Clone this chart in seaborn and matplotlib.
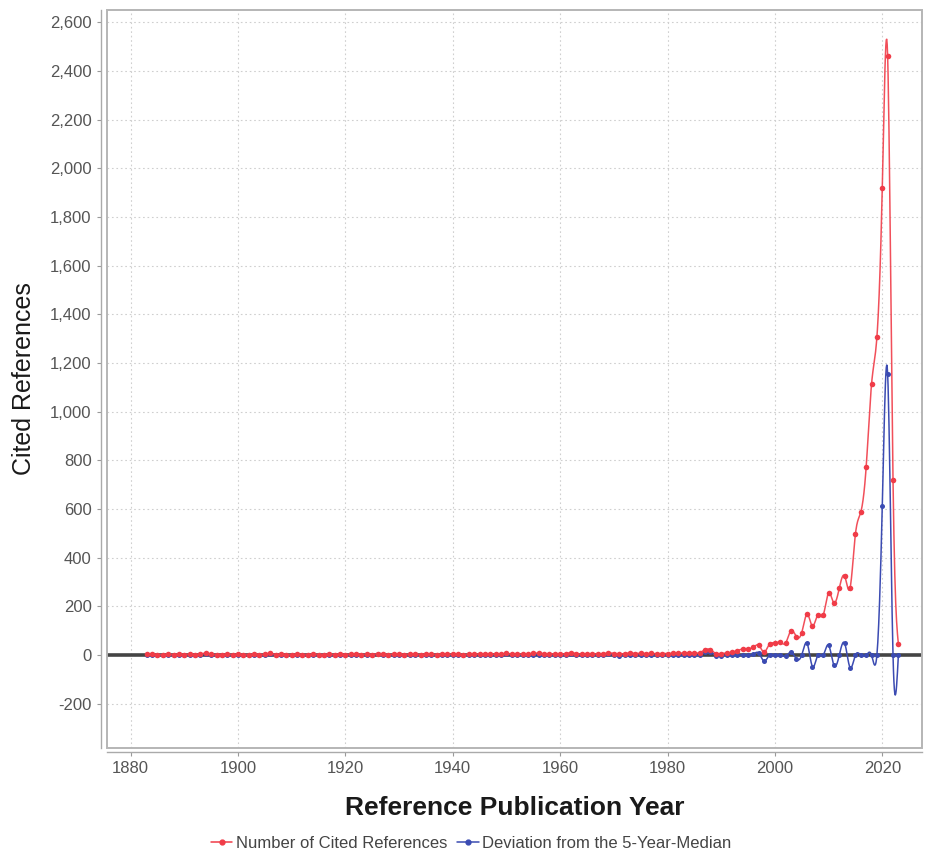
import numpy as np
import pandas as pd
import matplotlib
matplotlib.use("Agg")
import matplotlib.pyplot as plt
from matplotlib.lines import Line2D
from matplotlib.patches import Rectangle
from matplotlib.ticker import FuncFormatter, MultipleLocator
import seaborn as sns

# Data (one value per year, 1883-2023)
first_year = 1883
cited_refs = [
    4, 3, 2, 2, 3, 2, 3,
    2, 3, 2, 3, 9, 3, 2, 2, 3, 2,
    3, 2, 2, 3, 2, 3, 8, 2, 3, 2,
    2, 3, 2, 2, 3, 2, 2, 3, 2, 3,
    2, 3, 3, 2, 3, 2, 6, 3, 2, 3,
    3, 2, 3, 3, 2, 4, 3, 2, 3, 3,
    3, 3, 2, 3, 4, 3, 3, 4, 3, 4,
    7, 4, 3, 4, 4, 8, 7, 5, 4, 5,
    4, 5, 10, 5, 4, 5, 4, 6, 5, 9,
    6, 4, 6, 8, 6, 8, 6, 7, 5, 6,
    6, 7, 8, 8, 9, 8, 10, 22, 22, 6,
    6, 8, 12, 18, 25, 26, 32, 40, 12, 45,
    49, 53, 49, 100, 76, 92, 168, 119, 164, 164,
    255, 214, 275, 324, 275, 497, 587, 772, 1113, 1306,
    1920, 2460, 720, 45,
]
median_dev = [
    1, 0, -1, -1, 0, -1, 0,
    -1, 0, -1, 0, 6, 0, -1, -1, 0, -1,
    0, -1, -1, 0, -1, 0, 5, -1, 0, -1,
    -1, 0, -1, -1, 0, -1, -1, 0, -1, 0,
    -1, 0, 0, -1, 0, -1, 3, 0, -1, 0,
    0, -1, 0, 0, -1, 1, 0, -1, 0, 0,
    0, 0, -1, 0, 1, 0, 0, 0, -1, 0,
    3, 0, -1, 0, -1, 2, 2, 0, -1, 0,
    -1, 0, 5, 0, -1, 0, -1, 1, 0, 3,
    0, -2, 0, 2, 0, 1, -1, 0, -1, 0,
    0, 0, 0, 0, 1, 0, 0, 12, 12, -2,
    -2, 0, 0, 0, 0, 0, 4, 8, -25, 0,
    0, 2, -5, 12, -16, 0, 48, -48, 0, 0,
    41, -43, 0, 48, -52, 0, 0, 0, 0, 0,
    612, 1155, 0, 0,
]
years = list(range(first_year, first_year + len(cited_refs)))

series_names = ["Number of Cited References", "Deviation from the 5-Year-Median"]
red = "#f03c48"
blue = "#3b4bb2"

df = pd.DataFrame({"year": years, "refs": cited_refs, "dev": median_dev})


def spline_curve(x, y, steps=12):
    # natural cubic spline, the way the original chart smooths its lines
    x = np.asarray(x, float)
    y = np.asarray(y, float)
    n = len(x)
    h = np.diff(x)
    A = np.zeros((n, n))
    r = np.zeros(n)
    A[0, 0] = A[-1, -1] = 1
    for i in range(1, n - 1):
        A[i, i - 1] = h[i - 1] / 6
        A[i, i] = (h[i - 1] + h[i]) / 3
        A[i, i + 1] = h[i] / 6
        r[i] = (y[i + 1] - y[i]) / h[i] - (y[i] - y[i - 1]) / h[i - 1]
    m = np.linalg.solve(A, r)
    xs, ys = [], []
    for i in range(n - 1):
        xq = np.linspace(x[i], x[i + 1], steps, endpoint=False)
        a = x[i + 1] - xq
        b = xq - x[i]
        s = (m[i] * a**3 + m[i + 1] * b**3) / (6 * h[i]) \
            + (y[i] / h[i] - m[i] * h[i] / 6) * a \
            + (y[i + 1] / h[i] - m[i + 1] * h[i] / 6) * b
        xs.extend(xq)
        ys.extend(s)
    xs.append(x[-1])
    ys.append(y[-1])
    return pd.DataFrame({"x": xs, "y": ys})


sns.set_theme(style="white")
plt.rcParams["font.family"] = ["Liberation Sans", "DejaVu Sans"]

fig = plt.figure(figsize=(9.25, 8.55), dpi=100)
ax = fig.add_axes([107 / 925, 1 - 748 / 855, 815 / 925, 738 / 855])

ax.axhline(0, color="#444444", lw=2.6, zorder=1)

dev_line = spline_curve(df["year"], df["dev"])
ref_line = spline_curve(df["year"], df["refs"])
sns.lineplot(data=dev_line, x="x", y="y", color=blue, lw=1.1, sort=False,
             estimator=None, ax=ax, zorder=2)
sns.scatterplot(data=df, x="year", y="dev", color=blue, marker="o", s=13,
                linewidth=0, ax=ax, zorder=3)
sns.lineplot(data=ref_line, x="x", y="y", color=red, lw=1.1, alpha=0.9,
             sort=False, estimator=None, ax=ax, zorder=4)
sns.scatterplot(data=df, x="year", y="refs", color=red, marker="o", s=16,
                linewidth=0, ax=ax, zorder=5)

ax.set_xlim(1875.6, 2027.4)
ax.set_ylim(-382, 2650)
ax.xaxis.set_major_locator(MultipleLocator(20))
ax.yaxis.set_major_locator(MultipleLocator(200))
ax.yaxis.set_major_formatter(FuncFormatter(lambda v, p: f"{int(v):,}"))
ax.grid(True, color="#cfcfcf", linestyle=(0, (1.5, 2.5)), lw=0.8)
ax.set_axisbelow(True)

ax.tick_params(axis="both", labelsize=12, labelcolor="#555555", colors="#999999",
               length=3, width=0.8, direction="out", bottom=True, left=True)
for side in ["top", "right"]:
    ax.spines[side].set_visible(False)
ax.spines["left"].set_position(("outward", 4.5))
ax.spines["bottom"].set_position(("outward", 3))
for side in ["left", "bottom"]:
    ax.spines[side].set_color("#aaaaaa")
    ax.spines[side].set_linewidth(1)
ax.add_patch(Rectangle((0, 0), 1, 1, transform=ax.transAxes, fill=False,
                       edgecolor="#b5b5b5", lw=1.4, zorder=6, clip_on=False))

ax.set_xlabel("Reference Publication Year", fontsize=19, fontweight="bold",
              color="#1a1a1a", labelpad=14)
ax.set_ylabel("Cited References", fontsize=18, color="#1a1a1a", labelpad=10)

handles = [
    Line2D([], [], color=red, marker="o", markersize=3.5, lw=1.1),
    Line2D([], [], color=blue, marker="o", markersize=3.5, lw=1.1),
]
fig.legend(handles, series_names, loc="center", ncol=2,
           bbox_to_anchor=(471 / 925, 1 - 843 / 855), frameon=False,
           fontsize=12, labelcolor="#444444", handlelength=1.3,
           handletextpad=0.2, columnspacing=0.6)

fig.savefig("out.png", dpi=100)
